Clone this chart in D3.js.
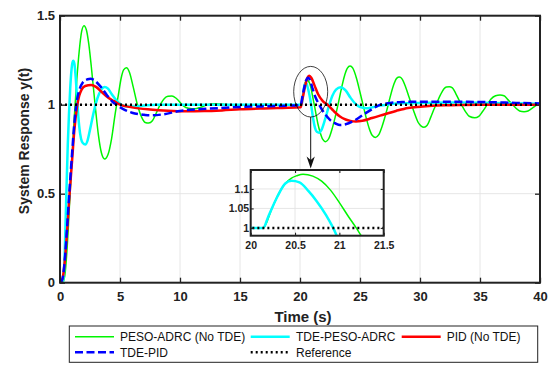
<!DOCTYPE html>
<html>
<head>
<meta charset="utf-8">
<script src="https://cdn.jsdelivr.net/npm/d3@7"></script>
<style>
  html, body { margin: 0; padding: 0; background: #fff; }
  svg { display: block; }
  text { font-family: "Liberation Sans", Arial, Helvetica, sans-serif; }
</style>
</head>
<body>
<svg id="chart" width="556" height="375"></svg>
<script>
// ---------------- DATA ----------------
const seriesNames = ["PESO-ADRC (No TDE)", "TDE-PESO-ADRC", "PID (No TDE)", "TDE-PID", "Reference"];
const seriesColors = ["#00f500", "#00ffff", "#ff0000", "#0000ff", "#000000"];

const tGreen = [0,0.2,0.4,0.6,0.8,1.0,1.2,1.4,1.6,1.8,2.0,2.2,2.4,2.6,2.85,3.0,3.2,3.45,3.72,4.0,4.3,4.6,4.85,5.1,5.3,5.53,5.8,6.1,6.45,6.8,7.1,7.39,7.7,8.0,8.35,8.7,9.0,9.33,9.7,10.25,10.7,11.25,11.7,12.2,12.9,13.6,14.2,15,16,17,18,19,20,20.14,20.24,20.32,20.39,20.46,20.52,20.59,20.7,20.8,20.9,21.0,21.1,21.19,21.3,21.5,21.7,21.9,22.14,22.4,22.7,23.0,23.2,23.45,23.7,23.95,24.17,24.4,24.7,25.0,25.25,25.5,25.8,26.05,26.29,26.55,26.85,27.2,27.5,27.85,28.05,28.28,28.5,28.8,29.1,29.3,29.55,29.85,30.1,30.33,30.6,30.9,31.2,31.4,31.7,32.0,32.2,32.44,32.7,33.0,33.3,33.5,33.8,34.1,34.56,34.9,35.2,35.6,35.9,36.3,36.67,37.0,37.3,37.65,38.0,38.3,38.67,39.0,39.3,39.65,40];
const yGreen = [0,0.0,0.04,0.2,0.45,0.7,0.94,1.14,1.3,1.41,1.444,1.42,1.34,1.22,1.05,0.95,0.83,0.73,0.695,0.72,0.81,0.95,1.05,1.15,1.195,1.208,1.18,1.1,1.0,0.93,0.9,0.897,0.91,0.95,1.0,1.035,1.047,1.049,1.035,0.995,0.98,0.977,0.985,0.998,1.006,1.003,0.998,0.996,0.999,1.001,1.0,1.0,1.0,1.0,1.05,1.09,1.114,1.128,1.134,1.138,1.133,1.12,1.097,1.065,1.03,1.0,0.96,0.89,0.84,0.805,0.792,0.81,0.87,0.95,1.01,1.09,1.16,1.205,1.217,1.205,1.15,1.07,1.0,0.93,0.86,0.825,0.816,0.83,0.88,0.96,1.04,1.12,1.148,1.155,1.145,1.1,1.04,1.0,0.95,0.9,0.88,0.874,0.885,0.93,0.98,1.01,1.055,1.09,1.1,1.101,1.095,1.06,1.02,0.995,0.96,0.935,0.927,0.935,0.96,1.0,1.03,1.05,1.054,1.05,1.03,1.005,0.98,0.965,0.961,0.965,0.978,0.995,1.004];

const tCyan = [0,0.25,0.35,0.45,0.55,0.65,0.75,0.85,0.95,1.05,1.11,1.2,1.3,1.4,1.5,1.6,1.75,1.9,2.11,2.3,2.5,2.75,3.0,3.25,3.5,3.72,4.0,4.3,4.7,5.1,5.6,6.2,7,8,10,15,20,20.14,20.2,20.3,20.39,20.46,20.55,20.65,20.74,20.85,20.93,21.0,21.1,21.25,21.4,21.6,21.8,22.1,22.4,22.7,23.0,23.39,23.8,24.2,24.7,25.1,25.56,26,26.7,27.5,28.5,30,33,36,38,40];
const yCyan = [0,0.0,0.08,0.3,0.55,0.78,0.95,1.09,1.19,1.24,1.247,1.23,1.16,1.06,0.96,0.88,0.81,0.785,0.777,0.8,0.86,0.94,1.01,1.06,1.09,1.1,1.09,1.06,1.025,1.0,0.99,0.99,0.995,1.0,1.0,1.0,1.0,1.0,1.03,1.08,1.114,1.121,1.117,1.095,1.07,1.033,1.0,0.965,0.92,0.87,0.848,0.843,0.86,0.92,0.99,1.05,1.085,1.098,1.08,1.04,1.0,0.985,0.98,0.985,0.995,1.003,1.008,1.01,1.012,1.01,1.008,1.005];

const tRed = [0,0.2,0.4,0.6,0.8,1.0,1.2,1.4,1.6,1.8,2.1,2.6,3.0,3.5,4.0,4.5,5.0,6.0,7.5,9.0,10.5,12,13.5,15,17,18.5,20.05,20.2,20.35,20.5,20.65,20.78,20.95,21.2,21.5,21.9,22.3,22.8,23.3,23.8,24.2,24.65,25.2,26,27,28,29,30,31,32,33.5,35,40];
const yRed = [0,0.02,0.12,0.3,0.5,0.68,0.86,0.98,1.05,1.085,1.105,1.11,1.1,1.07,1.04,1.02,1.0,0.985,0.973,0.966,0.963,0.964,0.968,0.974,0.979,0.982,0.985,1.03,1.08,1.125,1.155,1.163,1.15,1.11,1.06,1.02,1.0,0.965,0.935,0.917,0.909,0.906,0.91,0.925,0.945,0.965,0.982,0.989,0.994,0.997,0.999,1.0,1.0];

const tBlue = [0,0.2,0.4,0.6,0.8,1.0,1.2,1.4,1.6,1.9,2.3,2.55,2.9,3.4,3.9,4.4,4.7,5.2,6.0,7.0,7.5,8.5,10,12.5,15,18.3,20.05,20.2,20.35,20.5,20.68,20.85,21.05,21.3,21.6,22.0,22.5,23.0,23.33,23.8,24.5,25.3,26.0,26.7,27.5,28.5,30,32,34,36,38,40];
const yBlue = [0,0.02,0.13,0.32,0.53,0.72,0.9,1.02,1.08,1.125,1.143,1.146,1.135,1.1,1.055,1.015,1.0,0.978,0.955,0.943,0.94,0.945,0.965,0.978,0.987,0.993,0.998,1.045,1.095,1.135,1.152,1.135,1.09,1.04,1.0,0.955,0.915,0.893,0.886,0.89,0.91,0.945,0.975,1.0,1.01,1.015,1.017,1.017,1.016,1.014,1.01,1.007];

const tRef = [0, 40];
const yRef = [1, 1];

const xTicks = [0,5,10,15,20,25,30,35,40];
const yTicks = [0,0.5,1,1.5];
const insetXTicks = [20,20.5,21,21.5];
const insetYTicks = [1,1.05,1.1];
const xLabel = "Time (s)";
const yLabel = "System Response y(t)";

// ---------------- DRAW ----------------
const svg = d3.select("#chart");
svg.append("rect").attr("width",556).attr("height",375).attr("fill","#fff");

const M = {left:60, right:540, top:15.7, bottom:282.7};
const x = d3.scaleLinear().domain([0,40]).range([M.left, M.right]);
const y = d3.scaleLinear().domain([0,1.5]).range([M.bottom, M.top]);

const series = [
  {t:tGreen, v:yGreen, color:seriesColors[0], w:1.5, dash:null},
  {t:tCyan,  v:yCyan,  color:seriesColors[1], w:2.5, dash:null},
  {t:tRed,   v:yRed,   color:seriesColors[2], w:2.5, dash:null},
  {t:tBlue,  v:yBlue,  color:seriesColors[3], w:2.5, dash:"8,3.5"},
  {t:tRef,   v:yRef,   color:seriesColors[4], w:2.5, dash:"2,3"}
];

const defs = svg.append("defs");
defs.append("clipPath").attr("id","clipMain").append("rect")
  .attr("x",M.left).attr("y",M.top).attr("width",M.right-M.left).attr("height",M.bottom-M.top);

// grid
const grid = svg.append("g").attr("stroke","#e3e3e3").attr("stroke-width",0.9);
grid.selectAll("line.gx").data(xTicks.slice(1,-1)).join("line")
  .attr("x1",d=>x(d)).attr("x2",d=>x(d)).attr("y1",M.top).attr("y2",M.bottom);
grid.selectAll("line.gy").data(yTicks.slice(1,-1)).join("line")
  .attr("y1",d=>y(d)).attr("y2",d=>y(d)).attr("x1",M.left).attr("x2",M.right);

function drawSeries(g, xs, ys, list){
  list.forEach(s=>{
    const pts = s.t.map((tt,i)=>[tt, s.v[i]]);
    const line = d3.line().x(d=>xs(d[0])).y(d=>ys(d[1])).curve(d3.curveMonotoneX);
    const p = g.append("path").datum(pts).attr("d",line)
      .attr("fill","none").attr("stroke",s.color).attr("stroke-width",s.w)
      .attr("stroke-linejoin","round");
    if (s.dash) p.attr("stroke-dasharray",s.dash);
  });
}
const plotG = svg.append("g").attr("clip-path","url(#clipMain)");
drawSeries(plotG, x, y, series);

// axes (inward ticks)
const fontAxis = {size:"13px", weight:"bold"};
function styleAxis(g, showText){
  g.select(".domain").remove();
  g.selectAll(".tick line").attr("stroke","#222").attr("stroke-width",1.3);
  g.selectAll(".tick text").attr("font-size",fontAxis.size).attr("font-weight",fontAxis.weight)
    .attr("fill","#222").attr("font-family",'"Liberation Sans", Arial, sans-serif');
  if(!showText) g.selectAll(".tick text").remove();
}
svg.append("g").attr("transform",`translate(0,${M.bottom})`)
  .call(d3.axisBottom(x).tickValues(xTicks).tickSize(-5).tickPadding(9).tickFormat(d3.format("d")))
  .call(g=>styleAxis(g,true));
svg.append("g").attr("transform",`translate(0,${M.top})`)
  .call(d3.axisTop(x).tickValues(xTicks).tickSize(-5))
  .call(g=>styleAxis(g,false));
svg.append("g").attr("transform",`translate(${M.left},0)`)
  .call(d3.axisLeft(y).tickValues(yTicks).tickSize(-5).tickPadding(5).tickFormat(d=>String(d)))
  .call(g=>styleAxis(g,true));
svg.append("g").attr("transform",`translate(${M.right},0)`)
  .call(d3.axisRight(y).tickValues(yTicks).tickSize(-5))
  .call(g=>styleAxis(g,false));
svg.append("rect").attr("x",M.left).attr("y",M.top).attr("width",M.right-M.left).attr("height",M.bottom-M.top)
  .attr("fill","none").attr("stroke","#222").attr("stroke-width",2);

// axis labels
svg.append("text").attr("x",(M.left+M.right)/2+3).attr("y",321.5).attr("text-anchor","middle")
  .attr("font-size","15px").attr("font-weight","bold").attr("fill","#222").text(xLabel);
svg.append("text").attr("transform",`translate(28.5,${141}) rotate(-90)`).attr("text-anchor","middle")
  .attr("font-size","14px").attr("font-weight","bold").attr("fill","#222").text(yLabel);

// zoom annotation: ellipse + arrow
svg.append("ellipse").attr("cx",310.7).attr("cy",91.7).attr("rx",17).attr("ry",25.3)
  .attr("fill","none").attr("stroke","#111").attr("stroke-width",0.8);
svg.append("line").attr("x1",310.7).attr("x2",310.7).attr("y1",117).attr("y2",162)
  .attr("stroke","#111").attr("stroke-width",1);
svg.append("path").attr("d","M310.7,168.5 L306.6,156.5 L310.7,160 L314.8,156.5 Z").attr("fill","#111");

// ---------------- INSET ----------------
const I = {left:250.7, right:383.7, top:170, bottom:235.7};
const xi = d3.scaleLinear().domain([20,21.5]).range([I.left, I.right]);
const yi = d3.scaleLinear().domain([0.98,1.1487]).range([I.bottom, I.top]);
defs.append("clipPath").attr("id","clipInset").append("rect")
  .attr("x",I.left).attr("y",I.top).attr("width",I.right-I.left).attr("height",I.bottom-I.top);
svg.append("rect").attr("x",I.left).attr("y",I.top).attr("width",I.right-I.left).attr("height",I.bottom-I.top).attr("fill","#fff");
const igrid = svg.append("g").attr("stroke","#e3e3e3").attr("stroke-width",0.9);
igrid.selectAll("line.a").data(insetXTicks.slice(1,-1)).join("line")
  .attr("x1",d=>xi(d)).attr("x2",d=>xi(d)).attr("y1",I.top).attr("y2",I.bottom);
igrid.selectAll("line.b").data(insetYTicks.slice(1)).join("line")
  .attr("y1",d=>yi(d)).attr("y2",d=>yi(d)).attr("x1",I.left).attr("x2",I.right);
const insetG = svg.append("g").attr("clip-path","url(#clipInset)");
drawSeries(insetG, xi, yi, [series[0], series[1], series[4]]);

const insetFont = "10.5px";
function styleInset(g, showText){
  g.select(".domain").remove();
  g.selectAll(".tick line").attr("stroke","#222").attr("stroke-width",1.1);
  g.selectAll(".tick text").attr("font-size",insetFont).attr("font-weight","bold").attr("fill","#222")
    .attr("font-family",'"Liberation Sans", Arial, sans-serif');
  if(!showText) g.selectAll(".tick text").remove();
}
svg.append("g").attr("transform",`translate(0,${I.bottom})`)
  .call(d3.axisBottom(xi).tickValues(insetXTicks).tickSize(-3).tickPadding(6).tickFormat(d=>String(d)))
  .call(g=>styleInset(g,true));
svg.append("g").attr("transform",`translate(0,${I.top})`)
  .call(d3.axisTop(xi).tickValues(insetXTicks).tickSize(-3))
  .call(g=>styleInset(g,false));
svg.append("g").attr("transform",`translate(${I.left},0)`)
  .call(d3.axisLeft(yi).tickValues(insetYTicks).tickSize(-3).tickPadding(1.5).tickFormat(d=>String(d)))
  .call(g=>styleInset(g,true));
svg.append("g").attr("transform",`translate(${I.right},0)`)
  .call(d3.axisRight(yi).tickValues(insetYTicks).tickSize(-3))
  .call(g=>styleInset(g,false));
svg.append("rect").attr("x",I.left).attr("y",I.top).attr("width",I.right-I.left).attr("height",I.bottom-I.top)
  .attr("fill","none").attr("stroke","#222").attr("stroke-width",2);

// ---------------- LEGEND ----------------
const L = {x:69.3, y:326, w:468.4, h:36.3};
svg.append("rect").attr("x",L.x).attr("y",L.y).attr("width",L.w).attr("height",L.h)
  .attr("fill","#fff").attr("stroke","#222").attr("stroke-width",1);
const legendPos = [
  {lx:75, row:336.7, tx:120},
  {lx:250.7, row:336.7, tx:296},
  {lx:401.7, row:336.7, tx:446.7},
  {lx:75, row:352.3, tx:120},
  {lx:250.7, row:352.3, tx:296}
];
const leg = svg.append("g");
series.forEach((s,i)=>{
  const p = legendPos[i];
  const ln = leg.append("line").attr("x1",p.lx).attr("x2",p.lx+39).attr("y1",p.row).attr("y2",p.row)
    .attr("stroke",s.color).attr("stroke-width",s.w);
  if (s.dash) ln.attr("stroke-dasharray",s.dash);
  leg.append("text").attr("x",p.tx).attr("y",p.row+4.3).attr("font-size","12px").attr("fill","#111")
    .text(seriesNames[i]);
});
</script>
</body>
</html>
